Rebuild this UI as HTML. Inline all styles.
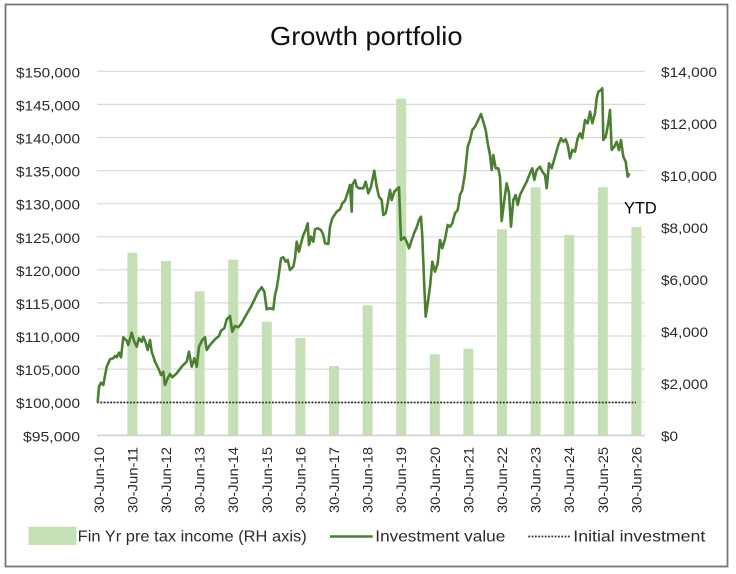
<!DOCTYPE html>
<html><head><meta charset="utf-8"><style>
html,body{margin:0;padding:0;background:#fff;}
svg{display:block;}
text{font-family:"Liberation Sans",Arial,sans-serif;}
</style></head><body>
<svg width="736" height="574" viewBox="0 0 736 574" xmlns="http://www.w3.org/2000/svg">
<rect x="0" y="0" width="736" height="574" fill="#fff"/>
<rect x="5.5" y="4.5" width="722" height="562" fill="#fff" stroke="#767676" stroke-width="1.8"/>
<text x="270" y="45" font-size="26" fill="#111" textLength="192.5" lengthAdjust="spacingAndGlyphs">Growth portfolio</text>
<g stroke="#d9d9d9" stroke-width="1.2">
<line x1="97" y1="71.3" x2="645" y2="71.3"/>
<line x1="97" y1="104.4" x2="645" y2="104.4"/>
<line x1="97" y1="137.5" x2="645" y2="137.5"/>
<line x1="97" y1="170.6" x2="645" y2="170.6"/>
<line x1="97" y1="203.7" x2="645" y2="203.7"/>
<line x1="97" y1="236.8" x2="645" y2="236.8"/>
<line x1="97" y1="269.8" x2="645" y2="269.8"/>
<line x1="97" y1="302.9" x2="645" y2="302.9"/>
<line x1="97" y1="336.0" x2="645" y2="336.0"/>
<line x1="97" y1="369.1" x2="645" y2="369.1"/>
<line x1="97" y1="402.2" x2="645" y2="402.2"/>
<line x1="97" y1="435.3" x2="645" y2="435.3"/>
</g>
<g fill="#2b2b2b" font-size="14" text-anchor="end">
<text x="80" y="77.3" textLength="64" lengthAdjust="spacingAndGlyphs">$150,000</text>
<text x="80" y="110.4" textLength="64" lengthAdjust="spacingAndGlyphs">$145,000</text>
<text x="80" y="143.5" textLength="64" lengthAdjust="spacingAndGlyphs">$140,000</text>
<text x="80" y="176.6" textLength="64" lengthAdjust="spacingAndGlyphs">$135,000</text>
<text x="80" y="209.7" textLength="64" lengthAdjust="spacingAndGlyphs">$130,000</text>
<text x="80" y="242.8" textLength="64" lengthAdjust="spacingAndGlyphs">$125,000</text>
<text x="80" y="275.8" textLength="64" lengthAdjust="spacingAndGlyphs">$120,000</text>
<text x="80" y="308.9" textLength="64" lengthAdjust="spacingAndGlyphs">$115,000</text>
<text x="80" y="342.0" textLength="64" lengthAdjust="spacingAndGlyphs">$110,000</text>
<text x="80" y="375.1" textLength="64" lengthAdjust="spacingAndGlyphs">$105,000</text>
<text x="80" y="408.2" textLength="64" lengthAdjust="spacingAndGlyphs">$100,000</text>
<text x="80" y="441.3" textLength="57" lengthAdjust="spacingAndGlyphs">$95,000</text>
</g>
<g fill="#2b2b2b" font-size="14">
<text x="661" y="77" textLength="56" lengthAdjust="spacingAndGlyphs">$14,000</text>
<text x="661" y="129" textLength="56" lengthAdjust="spacingAndGlyphs">$12,000</text>
<text x="661" y="181" textLength="56" lengthAdjust="spacingAndGlyphs">$10,000</text>
<text x="661" y="233" textLength="47" lengthAdjust="spacingAndGlyphs">$8,000</text>
<text x="661" y="285" textLength="47" lengthAdjust="spacingAndGlyphs">$6,000</text>
<text x="661" y="337" textLength="47" lengthAdjust="spacingAndGlyphs">$4,000</text>
<text x="661" y="389" textLength="47" lengthAdjust="spacingAndGlyphs">$2,000</text>
<text x="661" y="441" textLength="17" lengthAdjust="spacingAndGlyphs">$0</text>
</g>
<g fill="#c5e0b4">
<rect x="127.4" y="252.7" width="10" height="182.6"/>
<rect x="161.0" y="261" width="10" height="174.3"/>
<rect x="194.6" y="291.3" width="10" height="144"/>
<rect x="228.2" y="259.7" width="10" height="175.6"/>
<rect x="261.8" y="321.7" width="10" height="113.6"/>
<rect x="295.4" y="338" width="10" height="97.3"/>
<rect x="329.0" y="366" width="10" height="69.3"/>
<rect x="362.6" y="305.3" width="10" height="130"/>
<rect x="396.2" y="98.7" width="10" height="336.6"/>
<rect x="429.8" y="354.3" width="10" height="81"/>
<rect x="463.4" y="348.7" width="10" height="86.6"/>
<rect x="497.0" y="229.3" width="10" height="206"/>
<rect x="530.6" y="187.3" width="10" height="248"/>
<rect x="564.2" y="235" width="10" height="200.3"/>
<rect x="597.8" y="187.3" width="10" height="248"/>
<rect x="631.4" y="227" width="10" height="208.3"/>
</g>
<line x1="97" y1="435.5" x2="645" y2="435.5" stroke="#d0d0d0" stroke-width="1.5"/>
<line x1="97" y1="402.5" x2="636" y2="402.5" stroke="#303030" stroke-width="1.8" stroke-dasharray="1.8 1.5"/>
<polyline fill="none" stroke="#4a8030" stroke-width="2.6" stroke-linejoin="round" stroke-linecap="round" points="97.7,401.7 99,386.7 101,382.7 103.3,385 106.7,366.7 110,359.3 113.3,358.3 115,356 116.7,357.3 119,352.7 121,357.3 123.3,337.3 126.7,340.7 128.3,345 131.7,332.7 134.3,341.7 136.7,346.7 139,338.3 141.7,341.7 143.3,336.7 145.7,342.7 147.7,350 150,340 151.7,351.7 155,361.7 158.3,368.3 161,375 163.3,371.7 165,385 167.7,378.3 170,374 172.3,377.3 176.7,373.3 181.7,366.7 186.7,361.7 189,351.7 191.7,366.7 194.3,358.3 196.7,366.7 199,346.7 202.3,340 205,337.3 206.7,350 210,345 215,339.3 219,336 221,330.7 224.3,328.3 226.7,319.3 230,316 232.3,331.7 235,326 238.3,327.3 241,324 244.3,318.3 246.7,314 251,306.7 254.3,300 257.7,292.7 261.7,287.3 264.3,291.7 266.7,309.3 270,308.3 273.3,309.3 275,295 276.7,288.3 278.3,278.3 281,258.3 283.3,257.3 285.7,261.7 287.7,260 290,270 293.3,266.7 295,258.3 296.7,241.7 299,251.7 301,243.3 303.3,235 305.7,230 307.7,223.3 309,245 311,236.7 313.3,241.7 315,229.3 317.7,228.3 321,230 323.3,235 325,243.3 328.3,244 330,226.7 332.3,218.3 336.7,211.7 340,209.3 342.3,203.3 345,200.7 347.7,192.7 350,185 351.7,211.7 352.3,185 355,180 356.7,186.7 359,188.3 363.3,188.3 365.7,181.7 368.3,193.3 371,186.7 374.3,170.7 376.7,186.7 379,196.7 381.7,200 383.3,215 385.7,213.3 387.7,203.3 390,190 391.7,200 394.3,191.7 396.7,189.3 399,187.3 401,240 404.3,237.3 406.7,241.7 409,248.3 411.7,240 414.3,232.7 416.7,227.3 419,220 421,216.7 422.3,236.7 424.3,286.7 425.7,316.7 427.7,303.3 430,286.7 432.3,261.7 435,271.7 437.7,263.3 440,240 442.3,248.3 445,239.3 447.7,225 450,226.7 452.3,223.3 455,213.3 457.7,210 460,195 462.3,190 465,173.3 467.7,146.7 470,140 472.3,130 475,126.7 478.3,120 481,114 483.3,121.7 485.7,130 487.7,143.3 490,155 491.7,170 493.3,155 495.7,168.3 498.3,168.3 500,176.7 501.7,221 504.3,200 506.7,183.3 509,193.3 511,226.7 513.3,200 515.7,195 517.7,205 520,195 523.3,188.3 526.7,181.7 530,173.3 532.3,168.3 534.3,180 536.7,170 540,166.7 542.3,171.7 545,175 546.7,188.3 549,163.3 551.7,168.3 555,156.7 558.3,145 561,138.3 563.3,141.7 565.7,139.3 567.7,145 570,158.3 572.3,150 575,151.7 577.7,138.3 580,133.3 582.3,138.3 585,120 587.7,123.3 590,111.7 592.3,123.3 595,113.3 596.7,98.3 598.3,91.7 601,90 602.3,88.3 603.3,140 605.7,136.7 608.3,123.3 610,110 611.7,150 614.3,146.7 616.7,141.7 619,150 621,140 623.3,156.7 625.7,161.7 627.7,176.7 629,174.3"/>
<text x="624" y="213.3" font-size="17" fill="#000" textLength="32.7" lengthAdjust="spacingAndGlyphs">YTD</text>
<g fill="#2b2b2b" font-size="14" text-anchor="end">
<text transform="translate(103.8,447) rotate(-90)" textLength="66" lengthAdjust="spacingAndGlyphs">30-Jun-10</text>
<text transform="translate(137.4,447) rotate(-90)" textLength="66" lengthAdjust="spacingAndGlyphs">30-Jun-11</text>
<text transform="translate(171.0,447) rotate(-90)" textLength="66" lengthAdjust="spacingAndGlyphs">30-Jun-12</text>
<text transform="translate(204.6,447) rotate(-90)" textLength="66" lengthAdjust="spacingAndGlyphs">30-Jun-13</text>
<text transform="translate(238.2,447) rotate(-90)" textLength="66" lengthAdjust="spacingAndGlyphs">30-Jun-14</text>
<text transform="translate(271.8,447) rotate(-90)" textLength="66" lengthAdjust="spacingAndGlyphs">30-Jun-15</text>
<text transform="translate(305.4,447) rotate(-90)" textLength="66" lengthAdjust="spacingAndGlyphs">30-Jun-16</text>
<text transform="translate(339.0,447) rotate(-90)" textLength="66" lengthAdjust="spacingAndGlyphs">30-Jun-17</text>
<text transform="translate(372.6,447) rotate(-90)" textLength="66" lengthAdjust="spacingAndGlyphs">30-Jun-18</text>
<text transform="translate(406.2,447) rotate(-90)" textLength="66" lengthAdjust="spacingAndGlyphs">30-Jun-19</text>
<text transform="translate(439.8,447) rotate(-90)" textLength="66" lengthAdjust="spacingAndGlyphs">30-Jun-20</text>
<text transform="translate(473.4,447) rotate(-90)" textLength="66" lengthAdjust="spacingAndGlyphs">30-Jun-21</text>
<text transform="translate(507.0,447) rotate(-90)" textLength="66" lengthAdjust="spacingAndGlyphs">30-Jun-22</text>
<text transform="translate(540.6,447) rotate(-90)" textLength="66" lengthAdjust="spacingAndGlyphs">30-Jun-23</text>
<text transform="translate(574.2,447) rotate(-90)" textLength="66" lengthAdjust="spacingAndGlyphs">30-Jun-24</text>
<text transform="translate(607.8,447) rotate(-90)" textLength="66" lengthAdjust="spacingAndGlyphs">30-Jun-25</text>
<text transform="translate(641.4,447) rotate(-90)" textLength="66" lengthAdjust="spacingAndGlyphs">30-Jun-26</text>
</g>
<rect x="28.5" y="526.7" width="48" height="18.3" fill="#c5e0b4"/>
<g fill="#2b2b2b" font-size="16">
<text x="77.7" y="541.7" textLength="229" lengthAdjust="spacingAndGlyphs">Fin Yr pre tax income (RH axis)</text>
<text x="375.3" y="541.7" textLength="130" lengthAdjust="spacingAndGlyphs">Investment value</text>
<text x="573.3" y="541.7" textLength="132" lengthAdjust="spacingAndGlyphs">Initial investment</text>
</g>
<line x1="330" y1="536.5" x2="372.7" y2="536.5" stroke="#4a8030" stroke-width="2.6"/>
<line x1="528.3" y1="536.5" x2="570" y2="536.5" stroke="#303030" stroke-width="1.8" stroke-dasharray="1.8 1.5"/>
</svg>
</body></html>
